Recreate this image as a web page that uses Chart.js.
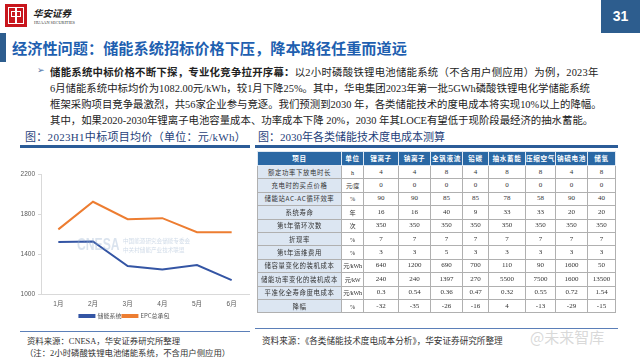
<!DOCTYPE html>
<html>
<head>
<meta charset="utf-8">
<script src="https://cdn.jsdelivr.net/npm/chart.js@4"></script>
<style>
  html, body { margin:0; padding:0; background:#fff; }
  #slide { position:relative; width:640px; height:360px; overflow:hidden; background:#fff;
           font-family:"Liberation Serif","Noto Sans CJK SC",serif; color:#222; }
  .abs { position:absolute; white-space:nowrap; }
  .line { position:absolute; left:50px; font-size:10.4px; color:#222; white-space:nowrap; }
  table { position:absolute; left:257px; top:151px; border-collapse:collapse; table-layout:fixed;
          font-family:"Liberation Serif","Noto Sans CJK SC",serif; font-size:7px; color:#333; border:1px solid #555; }
  td, th { border:1px solid #b0b0b0; text-align:center; padding:0; height:12.4px; line-height:11px; overflow:hidden; white-space:nowrap; }
  th { background:#2a68a4; color:#fff; font-weight:bold; height:13px; border-color:#dfe8f2; font-family:"Noto Sans CJK SC",sans-serif; font-size:6.6px; letter-spacing:0.6px; }
  td.first { background:#dce6f2; letter-spacing:0.6px; font-family:"Noto Sans CJK SC",sans-serif; font-size:6.4px; color:#333; }
  td.unit { font-size:6.2px; letter-spacing:-0.3px; overflow:visible; }
  .wm { position:absolute; white-space:nowrap; line-height:1; }
</style>
</head>
<body>
<div id="slide">
  <!-- logo -->
  <div class="abs" style="left:5px;top:4px;width:22px;height:23px;background:#c8161d;"></div>
  <div class="abs" style="left:8px;top:7px;width:16px;height:17px;border:1.5px solid #fff;box-sizing:border-box;"></div>
  <div class="abs" style="left:11px;top:11px;width:10px;height:6px;border:1.5px solid #fff;box-sizing:border-box;"></div>
  <div class="abs" style="left:15.3px;top:7px;width:1.5px;height:17px;background:#fff;"></div>
  <div class="abs" style="left:33px;top:6px;font-family:'Noto Sans CJK SC';font-size:9.5px;font-weight:bold;color:#222;font-style:italic;">华安证券</div>
  <div class="abs" style="left:34px;top:20px;font-family:'Liberation Serif';font-size:4.3px;color:#333;">HUAAN SECURITIES</div>
  <!-- page number -->
  <div class="abs" style="left:601px;top:0;width:39px;height:33px;background:#2d5d8e;color:#fff;font-family:'Liberation Sans';font-weight:bold;font-size:14px;line-height:33px;text-align:center;">31</div>
  <!-- title -->
  <div class="abs" style="left:0;top:33px;width:6px;height:29px;background:#2d5d8e;"></div>
  <div class="abs" style="left:12px;top:36px;font-family:'Noto Sans CJK SC';font-size:15.2px;font-weight:bold;color:#1e5fb0;">经济性问题：储能系统招标价格下压，降本路径任重而道远</div>
  <!-- bullet text -->
  <div class="abs" style="left:37px;top:65px;font-family:'DejaVu Sans';font-size:9px;color:#4a6fa5;">➢</div>
  <div class="line" style="top:64px;letter-spacing:0.25px;"><b style="font-family:'Noto Sans CJK SC';">储能系统中标价格不断下探，专业化竞争拉开序幕：</b>以2小时磷酸铁锂电池储能系统（不含用户侧应用）为例，2023年</div>
  <div class="line" style="top:80px;">6月储能系统中标均价为1082.00元/kWh，较1月下降25%。其中，华电集团2023年第一批5GWh磷酸铁锂电化学储能系统</div>
  <div class="line" style="top:96px;">框架采购项目竞争最激烈，共56家企业参与竞逐。我们预测到2030 年，各类储能技术的度电成本将实现10%以上的降幅。</div>
  <div class="line" style="top:112px;">其中，如果2020-2030年锂离子电池容量成本、功率成本下降 20%，2030 年其LOCE有望低于现阶段最经济的抽水蓄能。</div>

  <!-- left heading -->
  <div class="abs" style="left:25px;top:128px;font-size:11px;color:#1f3f7a;letter-spacing:0.3px;">图：2023H1中标项目均价（单位：元/kWh）</div>
  <div class="abs" style="left:20px;top:145px;width:230px;height:3px;background:#2b5c98;"></div>
  <!-- right heading -->
  <div class="abs" style="left:258px;top:128px;font-size:11px;color:#1f3f7a;">图：2030年各类储能技术度电成本测算</div>
  <div class="abs" style="left:255px;top:145px;width:363px;height:3px;background:#2b5c98;"></div>

  <!-- chart -->
  <div class="abs" style="left:0;top:160px;width:255px;height:171px;">
    <canvas id="c"></canvas>
  </div>
  <!-- chart watermark -->
  <div class="wm" style="left:77px;top:237px;font-family:'Liberation Sans';font-weight:bold;font-size:16px;color:rgba(150,175,205,0.35);transform:scaleX(0.76);transform-origin:left top;">CNESA</div>
  <div class="wm" style="left:123px;top:239px;font-family:'Noto Sans CJK SC';font-size:5.6px;color:rgba(150,175,205,0.45);">中国能源研究会储能专委会</div>
  <div class="wm" style="left:123px;top:248px;font-family:'Noto Sans CJK SC';font-size:5.6px;color:rgba(150,175,205,0.45);">中关村储能产业技术联盟</div>

  <!-- left footer -->
  <div class="abs" style="left:20px;top:331px;width:230px;height:1px;background:#5b7fb8;"></div>
  <div class="abs" style="left:27px;top:334px;font-size:8.4px;color:#333;">资料来源：CNESA，华安证券研究所整理</div>
  <div class="abs" style="left:25px;top:346px;font-size:8.4px;color:#333;">（注：2小时磷酸铁锂电池储能系统，不含用户侧应用）</div>

  <!-- table -->
  <table id="tbl">
    <colgroup id="cols"></colgroup>
    <thead><tr id="head"></tr></thead>
    <tbody id="body"></tbody>
  </table>

  <!-- right footer -->
  <div class="abs" style="left:255px;top:328px;width:363px;height:1px;background:#5b7fb8;"></div>
  <div class="abs" style="left:262px;top:334px;font-size:8.6px;color:#333;">资料来源：《各类储能技术度电成本分析》，华安证券研究所整理</div>
  <div class="abs" style="left:530px;top:326px;font-family:'Noto Sans CJK SC';font-size:15px;color:rgba(200,200,200,0.7);">@未来智库</div>
</div>

<script>
// ---- chart data ----
const months = ['1月', '2月', '3月', '4月', '5月', '6月'];
const storageSystem = [1520, 1527, 1281, 1247, 1291, 1140];
const epcContract = [1647, 1923, 1749, 1759, 1619, 1619];
const yTicks = [1000, 1400, 1800, 2200];
const seriesNames = ['储能系统', 'EPC总承包'];

// ---- table data ----
const tableHeader = ['项目', '单位', '锂离子', '钠离子', '全钒液流', '铅碳', '抽水蓄能', '压缩空气', '钠硫电池', '储氢'];
const rowItems = ['额定功率下放电时长', '充电时的买点价格', '储能站AC-AC循环效率', '系统寿命', '第t年循环次数', '折现率', '第t年运维费用', '储容量变化的装机成本', '储能功率变化的装机成本', '平准化全寿命度电成本', '降幅'];
const rowUnits = ['h', '元/度', '%', '年', '次', '%', '%', '元/kWh', '元/kW', '元/kWh', '%'];
const rowDischarge = [4, 4, 8, 4, 8, 8, 4, 8];
const rowBuyPrice = [0, 0, 0, 0, 0, 0, 0, 0];
const rowEfficiency = [90, 90, 85, 85, 78, 58, 90, 40];
const rowLife = [16, 16, 40, 9, 33, 33, 20, 20];
const rowCycles = [350, 350, 350, 350, 350, 350, 350, 350];
const rowDiscount = [7, 7, 7, 7, 7, 7, 7, 7];
const rowOandM = [3, 3, 5, 3, 3, 3, 3, 3];
const rowCapCost = [640, 1200, 690, 700, 110, 90, 1600, 50];
const rowPowerCost = [240, 240, 1397, 270, 5500, 7500, 1600, 13500];
const rowLcoe = [0.3, 0.54, 0.36, 0.47, 0.32, 0.55, 0.72, 1.54];
const rowDecline = [-32, -35, -26, -16, 4, -13, -29, -15];
const tableRows = [rowDischarge, rowBuyPrice, rowEfficiency, rowLife, rowCycles, rowDiscount, rowOandM, rowCapCost, rowPowerCost, rowLcoe, rowDecline];
const colWidths = [84, 22, 35, 32, 32, 26, 37, 30, 32, 28];

// build table
const cols = document.getElementById('cols');
colWidths.forEach(w => { const c = document.createElement('col'); c.style.width = w + 'px'; cols.appendChild(c); });
document.getElementById('tbl').style.width = colWidths.reduce((a, b) => a + b, 0) + 'px';
const head = document.getElementById('head');
tableHeader.forEach(h => { const th = document.createElement('th'); th.textContent = h; head.appendChild(th); });
const body = document.getElementById('body');
tableRows.forEach((vals, i) => {
  const tr = document.createElement('tr');
  const t1 = document.createElement('td'); t1.className = 'first'; t1.textContent = rowItems[i]; tr.appendChild(t1);
  const t2 = document.createElement('td'); t2.className = 'unit'; t2.textContent = rowUnits[i]; tr.appendChild(t2);
  vals.forEach(v => { const td = document.createElement('td'); td.textContent = String(v); tr.appendChild(td); });
  body.appendChild(tr);
});

// chart
const legendShift = {
  id: 'legendShift',
  afterLayout(chart) {
    const l = chart.legend;
    if (l) { l.top -= 2; l.bottom -= 2; }
  }
};
const tickFont = { family: "'Liberation Sans', 'Noto Sans CJK SC', sans-serif", size: 6.5 };
new Chart(document.getElementById('c'), {
  type: 'line',
  data: {
    labels: months,
    datasets: [
      { label: seriesNames[0], data: storageSystem, borderColor: '#3455a4', backgroundColor: '#3455a4', borderWidth: 2, pointRadius: 0, tension: 0 },
      { label: seriesNames[1], data: epcContract, borderColor: '#ed7d31', backgroundColor: '#ed7d31', borderWidth: 2, pointRadius: 0, tension: 0 }
    ]
  },
  plugins: [legendShift],
  options: {
    responsive: true, maintainAspectRatio: false, animation: false,
    layout: { padding: { top: 14, right: 6, left: 0, bottom: 0 } },
    plugins: {
      tooltip: { enabled: false },
      legend: { position: 'bottom', labels: { boxWidth: 15, boxHeight: 2, padding: 1, color: '#595959', font: { family: "'Noto Sans CJK SC', sans-serif", size: 6 } } }
    },
    scales: {
      x: {
        offset: true,
        grid: { display: false, drawTicks: false },
        border: { display: true, color: '#d9d9d9' },
        ticks: { color: '#595959', font: tickFont, padding: 6 }
      },
      y: {
        min: 1000, max: 2200,
        afterBuildTicks: s => { s.ticks = yTicks.map(v => ({ value: v })); },
        afterFit: s => { s.width = 41; },
        grid: { display: true, drawOnChartArea: false, drawTicks: true, tickLength: 3, color: '#d9d9d9' },
        border: { display: true, color: '#d9d9d9' },
        ticks: { color: '#595959', font: tickFont, padding: 3, callback: v => String(v) }
      }
    }
  }
});
</script>
</body>
</html>
